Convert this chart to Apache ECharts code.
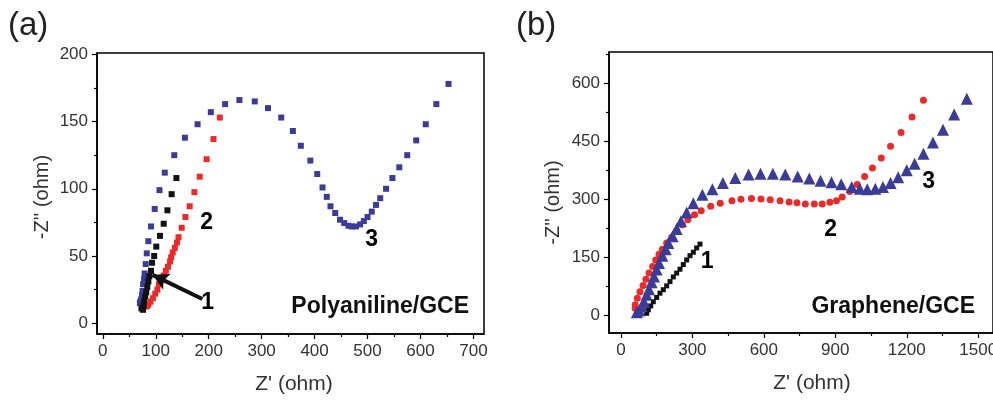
<!DOCTYPE html>
<html>
<head>
<meta charset="utf-8">
<script src="https://cdn.jsdelivr.net/npm/echarts@6/dist/echarts.min.js"></script>
<style>
  html, body { margin: 0; padding: 0; background: #fff; }
  #chart { width: 993px; height: 401px; }
</style>
</head>
<body>
<div id="chart"></div>
<script>
// panel (a) Polyaniline/GCE, [Z', -Z'']
var polyCurve1 = [[73,11],[76,10],[77,13],[78,16],[80,20],[82,23],[84,27],[86,31],[88,35],[91,39],[93,45],[97,50],[101,57],[108,65],[115,74],[122,84],[130,96],[139,108]]
var polyCurve2 = [[82,12.5],[84,13],[86,14],[90,16],[94.5,18.6],[99,22],[103,25],[106,29],[111,32],[115,35.5],[119,39],[123,42],[127,46],[129,49],[132,52.6],[136,56],[140,60],[143,64],[149,71],[156,79],[164,87],[173,97.5],[183,109],[196,122],[209,137],[221,153]]
var polyCurve3 = [[70,15],[71,16],[72,17],[73,18],[74,21],[75,24],[76,29],[78,33],[79,37],[81,44],[83,52],[86,61],[91,72],[98,85],[107,99],[117,112],[135,125],[155,138],[179,148],[204,157],[231,163],[258,166],[287,165],[312,160],[337,153],[359,143],[374,132],[392,121],[405,111],[415,101],[423,94],[430,87],[439,82],[448,77],[456,74.5],[464,72.5],[470,72],[478,72],[486,73.5],[493,76],[500,79],[508,83],[516,88],[524,93],[535,100],[547,108],[560,116],[575,125],[592,136],[610,148],[630,163],[653,178]]
var polyNotes = [[198,15.5,'1'],[196,75,'2'],[508,62,'3']]
var polyArrow = [[188,18],[94,36]]

// panel (b) Graphene/GCE
var grapCurve1 = [[108,4],[115,13],[125,23],[136,34],[150,45],[164,56],[178,65],[192,75],[206,86],[220,98],[234,108],[248,118],[262,130],[276,142],[290,153],[304,162],[318,173],[332,183]]
var grapCurve2 = [[60,17],[60,26],[69,43],[80,60],[93,76],[105,92],[118,108],[133,125],[146,142],[160,157],[174,170],[192,186],[213,201],[234,218],[258,233],[281,246],[309,259],[337,269],[377,281],[417,289],[466,295],[504,299],[548,301],[588,300],[627,298],[668,295],[706,292],[739,290],[774,287],[812,287],[845,287],[877,291],[905,295],[929,305],[961,319],[992,337],[1023,358],[1056,380],[1093,406],[1132,436],[1176,472],[1222,512],[1270,555]]
var grapCurve3 = [[67,7],[77,11],[87,22],[97,34],[108,52],[118,66],[129,84],[139,99],[150,117],[160,134],[174,153],[188,170],[199,186],[217,203],[234,222],[252,242],[276,265],[304,289],[342,311],[384,325],[428,341],[480,354],[536,363],[586,365],[638,365],[690,363],[742,358],[791,353],[838,347],[884,343],[925,338],[969,331],[1003,326],[1034,325],[1068,326],[1100,331],[1132,341],[1164,356],[1200,374],[1233,391],[1270,417],[1310,446],[1352,479],[1399,518],[1452,559]]
var grapNotes = [[362,137,'1'],[880,220,'2'],[1292,344,'3']]

// ticks
var polyXTicks = [0,100,200,300,400,500,600,700]
var polyXMinor = [50,150,250,350,450,550,650]
var polyYTicks = [0,50,100,150,200]
var polyYMinor = [25,75,125,175]
var grapXTicks = [0,300,600,900,1200,1500]
var grapXMinor = [150,450,750,1050,1350]
var grapYTicks = [0,150,300,450,600]
var grapYMinor = [75,225,375,525,675]

var FONT = '"Liberation Sans", Arial, sans-serif'
var BLUE = '#3b3b98'
var RED = '#ec2a2a'
var BLACK = '#111'

function mainAxis(grid, min, max, ticks, name, nameGap, size, pad) {
  return {
    type: 'value', gridIndex: grid, min: min, max: max,
    name: name, nameLocation: 'middle', nameGap: nameGap,
    nameTextStyle: { fontFamily: FONT, fontSize: size, color: '#333', padding: pad },
    axisLine: { show: true, onZero: false, lineStyle: { color: '#000', width: 1.5 } },
    axisTick: { show: true, length: 5, customValues: ticks, lineStyle: { color: '#000', width: 1.2 } },
    axisLabel: { customValues: ticks, margin: 9, fontFamily: FONT, fontSize: 17, color: '#333',
      hideOverlap: false, formatter: function (v) { return String(v) } },
    splitLine: { show: false }
  }
}
function minorAxis(grid, min, max, ticks, pos) {
  return {
    type: 'value', gridIndex: grid, min: min, max: max, position: pos,
    axisLine: { show: false, onZero: false },
    axisTick: { show: true, length: 3, customValues: ticks, lineStyle: { color: '#000', width: 1.2 } },
    axisLabel: { show: false },
    splitLine: { show: false }
  }
}
function dots(name, x, y, data, symbol, size, color) {
  return { name: name, type: 'scatter', xAxisIndex: x, yAxisIndex: y, data: data,
    symbol: symbol, symbolSize: size, itemStyle: { color: color, opacity: 1 }, silent: true }
}
function notes(x, y, data) {
  return { type: 'scatter', xAxisIndex: x, yAxisIndex: y, data: data, symbolSize: 1,
    itemStyle: { color: 'transparent' }, silent: true,
    label: { show: true, position: 'inside', formatter: function (p) { return p.data[2] },
      fontFamily: FONT, fontSize: 23, fontWeight: 'bold', color: '#000', opacity: 1,
      textBorderWidth: 0 } }
}

var curve1a = dots('1', 0, 0, polyCurve1, 'rect', 6, BLACK)
// arrow pointing at curve 1
curve1a.markLine = {
  silent: true, animation: false,
  symbol: ['none', 'arrow'], symbolSize: [13, 16],
  label: { show: false },
  lineStyle: { color: '#111', width: 4, type: 'solid', opacity: 1 },
  emphasis: { disabled: true },
  data: [[{ coord: polyArrow[0] }, { coord: polyArrow[1] }]]
}

var chart = echarts.init(document.getElementById('chart'))
chart.setOption({
  animation: false,
  backgroundColor: '#fff',
  grid: [
    { left: 97, top: 53, width: 387, height: 281, show: true, borderColor: '#000', borderWidth: 1.5,
      containLabel: false, outerBoundsMode: 'none' },
    { left: 609, top: 52, width: 384, height: 281, show: true, borderColor: '#000', borderWidth: 1.5,
      containLabel: false, outerBoundsMode: 'none' }
  ],
  xAxis: [
    mainAxis(0, -11, 720, polyXTicks, "Z' (ohm)", 40, 21, [0, 0, 0, 7]),
    minorAxis(0, -11, 720, polyXMinor, 'bottom'),
    mainAxis(1, -50, 1562, grapXTicks, "Z' (ohm)", 40, 21, [0, 0, 0, 22]),
    minorAxis(1, -50, 1562, grapXMinor, 'bottom')
  ],
  yAxis: [
    mainAxis(0, -8, 201, polyYTicks, "-Z'' (ohm)", 45, 20, [0, 0, 0, -7]),
    minorAxis(0, -8, 201, polyYMinor, 'left'),
    mainAxis(1, -47, 680, grapYTicks, "-Z'' (ohm)", 46, 20, [0, 0, 0, -20]),
    minorAxis(1, -47, 680, grapYMinor, 'left')
  ],
  graphic: [
    { type: 'text', left: 8, top: 9, style: { text: '(a)', font: '33px ' + FONT, fill: '#222' } },
    { type: 'text', left: 516, top: 9, style: { text: '(b)', font: '33px ' + FONT, fill: '#222' } },
    { type: 'text', right: 993 - 469, top: 295, style: { text: 'Polyaniline/GCE', font: 'bold 23px ' + FONT, fill: '#111' } },
    { type: 'text', right: 993 - 975, top: 295, style: { text: 'Graphene/GCE', font: 'bold 23px ' + FONT, fill: '#111' } }
  ],
  series: [
    dots('3', 0, 0, polyCurve3, 'rect', 6, BLUE),
    dots('2', 0, 0, polyCurve2, 'rect', 6, RED),
    curve1a,
    notes(0, 0, polyNotes),
    dots('1', 2, 2, grapCurve1, 'rect', 5, BLACK),
    dots('2', 2, 2, grapCurve2, 'circle', 7, RED),
    dots('3', 2, 2, grapCurve3, 'triangle', 12, BLUE),
    notes(2, 2, grapNotes)
  ]
})
</script>
</body>
</html>
